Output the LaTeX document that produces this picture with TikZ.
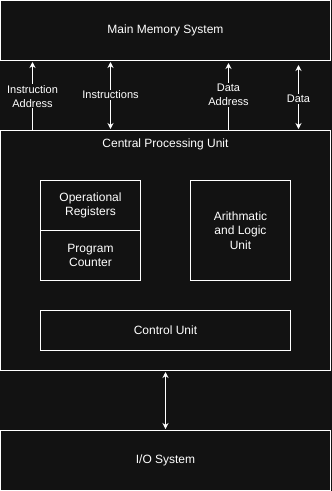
\documentclass[tikz,border=0pt]{standalone}
\usepackage{fontspec}
\setmainfont{Liberation Sans}
\usetikzlibrary{arrows.meta}
\definecolor{bgdark}{HTML}{121212}
\tikzset{
  unit/.style={draw=white, fill=bgdark, line width=1pt, text=white,
    align=center, inner sep=0pt, font=\fontsize{12}{14.4}\selectfont},
  tag/.style={fill=bgdark, text=white, align=center, inner sep=1pt,
    font=\fontsize{11}{14}\selectfont},
  link/.style={white, line width=1pt, shorten >=1pt, shorten <=1pt,
    {Stealth[length=6pt,width=6pt]}-{Stealth[length=6pt,width=6pt]}},
  uplink/.style={white, line width=1pt, shorten >=1pt,
    -{Stealth[length=6pt,width=6pt]}}
}
\begin{document}
\begin{tikzpicture}[x=1pt, y=-1pt]
    % Background and page size (332 x 491 px)
    \fill[bgdark] (0,0) rectangle (332,491);
    \useasboundingbox (0,0) rectangle (332,491);
    % Outer blocks
    \node[unit, minimum width=330pt, minimum height=60pt] (mem) at (165.5,30.5) {Main Memory System};
    \node[unit, minimum width=330pt, minimum height=240pt] (cpu) at (165.5,250.5) {};
    \node[unit, minimum width=330pt, minimum height=60pt] (io) at (165.5,460.5) {I/O System};
    \node[text=white, font=\fontsize{12}{14.4}\selectfont] (cputitle) at (165.5,144) {Central Processing Unit};
    % Blocks inside the CPU
    \node[unit, minimum width=100pt, minimum height=50pt] (opreg) at (90.5,205.5) {Operational\\Registers};
    \node[unit, minimum width=100pt, minimum height=50pt] (pc) at (90.5,255.5) {Program\\Counter};
    \node[unit, minimum width=100pt, minimum height=100pt] (alu) at (240.5,230.5) {Arithmatic\\and Logic\\Unit};
    \node[unit, minimum width=250pt, minimum height=40pt] (cu) at (165.5,330.5) {Control Unit};
    % Bus positions between CPU and memory
    \coordinate (iaX) at (32.5,0);
    \coordinate (insX) at (110.5,0);
    \coordinate (daX) at (228.5,0);
    \coordinate (dX) at (298.5,0);
    % Buses
    \draw[uplink] (cpu.north -| iaX) -- node[tag, pos=0.49] {Instruction\\Address} (mem.south -| iaX);
    \draw[link] (cpu.north -| insX) -- node[tag, pos=0.51] {Instructions} (mem.south -| insX);
    \draw[uplink, shorten >=2pt] (cpu.north -| daX) -- node[tag, pos=0.51] {Data\\Address} (mem.south -| daX);
    \draw[link, shorten >=4pt] (cpu.north -| dX) -- node[tag, pos=0.45] {Data} (mem.south -| dX);
    \draw[link] (cpu.south) -- (io.north);
\end{tikzpicture}
\end{document}
